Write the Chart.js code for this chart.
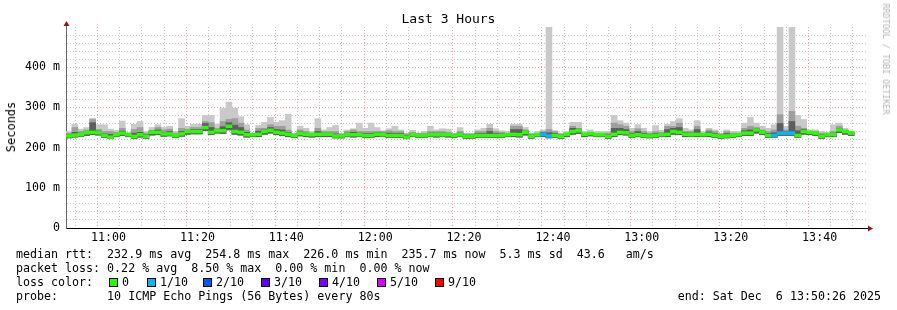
<!DOCTYPE html>
<html>
<head>
<meta charset="utf-8">
<title>Last 3 Hours</title>
<script src="https://cdn.jsdelivr.net/npm/chart.js@4.4.1/dist/chart.umd.min.js"></script>
<style>
  body { margin: 0; background: #fff; }
  #wrap { position: relative; width: 897px; height: 310px; font-family: 'DejaVu Sans Mono', monospace; color: #000; overflow: hidden; }
  #wrap canvas { position: absolute; left: 0; top: 0; }
  .txt { position: absolute; white-space: pre; font-size: 11.65px; line-height: 14px; }
  #title { position: absolute; left: 0; width: 897px; top: 11px; text-align: center; font-size: 13px; line-height: 16px; }
  #ylab { position: absolute; left: 11px; top: 127px; font-size: 12px; line-height: 14px; white-space: pre;
          transform: translate(-50%, -50%) rotate(-90deg); }
  #mark { position: absolute; left: 886px; top: 59px; font-size: 8.4px; line-height: 10px; color: #b4b4b4; white-space: pre;
          transform: translate(-50%, -50%) rotate(90deg); }
  .sq { position: absolute; width: 7px; height: 7px; border: 1px solid #000; }
</style>
</head>
<body>
<div id="wrap">
  <canvas id="pingChart" width="897" height="310"></canvas>
  <div id="title">Last 3 Hours</div>
  <div id="ylab">Seconds</div>
  <div id="mark">RRDTOOL / TOBI OETIKER</div>
  <div class="txt" style="left:16px; top:247px">median rtt:  232.9 ms avg  254.8 ms max  226.0 ms min  235.7 ms now  5.3 ms sd  43.6   am/s</div>
  <div class="txt" style="left:16px; top:261px">packet loss: 0.22 % avg  8.50 % max  0.00 % min  0.00 % now</div>
  <div class="txt" style="left:16px; top:275px">loss color:</div>
  <div id="lossLegend"></div>
  <div class="txt" style="left:16px; top:289px">probe:       10 ICMP Echo Pings (56 Bytes) every 80s</div>
  <div class="txt" style="right:16px; top:289px">end: Sat Dec  6 13:50:26 2025</div>
</div>
<script>
// one bar per 80 s sample, values in ms
const stepMinutes = 80 / 60;
const graphStart = 10 * 60 + 50 + 26 / 60;   // 10:50:26
const graphEnd = graphStart + 180;           // 13:50:26

const maxRtt = [
  240,258,246,250,273,257,257,246,243,266,238,258,265,240,250,257,250,253,240,272,253,258,
  258,280,280,258,298,313,298,277,257,236,255,263,275,263,267,283,236,253,248,240,272,244,
  250,255,236,244,247,261,248,261,250,242,247,253,244,236,243,236,240,253,244,247,246,236,250,
  236,236,244,248,258,247,242,240,258,258,250,236,240,244,510,242,236,240,263,263,240,244,240,
  240,240,280,267,261,248,257,248,240,255,243,258,265,272,248,244,267,240,248,244,236,244,240,
  240,261,275,261,253,248,257,520,253,520,280,270,244,244,240,238,257,261,248,240
];
const upperRtt = [
  236,250,240,244,270,245,240,240,238,248,235,245,250,236,243,250,244,246,236,248,246,250,
  250,265,262,248,265,270,272,261,244,234,248,248,257,253,253,244,234,244,240,236,248,240,
  240,240,234,240,244,240,240,240,240,240,242,240,240,234,238,236,236,240,240,240,238,234,240,
  234,234,240,240,248,240,238,236,253,253,244,234,236,240,245,240,234,236,253,248,236,238,236,
  236,236,261,257,253,240,247,240,236,240,238,253,253,261,240,240,253,236,244,240,234,240,236,
  236,248,253,250,244,240,244,282,244,290,253,248,240,240,236,236,240,253,244,240
];
const innerRtt = [
  233,238,236,240,262,241,234,233,235,241,234,236,238,232,241,244,238,240,233,240,243,245,
  245,260,250,245,252,262,256,250,238,233,241,244,250,245,244,238,232,239,236,234,240,236,
  236,234,231,236,238,236,235,235,237,236,236,235,235,230,235,233,233,236,236,236,235,232,236,
  231,231,235,235,240,235,234,234,245,245,241,231,234,237,237,235,231,234,248,246,235,237,234,
  234,232,248,248,245,235,240,235,233,235,235,245,248,250,237,236,245,234,239,235,231,235,233,
  234,242,244,248,241,235,237,260,240,265,242,245,239,238,232,234,236,248,242,238
];
const medianRtt = [
  229,231,233,237,238,237,230,226,232,236,232,228,232,228,238,238,234,234,230,234,240,240,
  240,250,238,242,242,253,240,238,232,232,233,240,243,238,236,233,230,235,233,232,233,233,
  233,229,229,232,232,232,230,230,233,232,230,230,230,226,232,230,230,232,232,232,232,230,232,
  228,228,230,230,230,230,230,232,233,232,238,228,232,233,229,230,228,233,240,242,233,235,232,
  232,228,233,238,237,230,232,230,229,230,232,233,240,238,233,232,233,232,233,230,228,229,230,
  232,236,236,244,238,230,230,236,236,236,230,240,238,236,228,232,232,244,240,236
];
const minRtt = [
  224,226,228,230,232,231,225,222,227,230,227,223,226,223,231,232,228,229,225,228,233,234,
  234,242,232,236,235,244,233,231,226,227,227,233,236,232,230,227,225,229,227,226,227,227,
  227,224,224,227,226,227,225,225,227,227,225,225,225,222,227,225,225,227,226,227,226,225,227,
  223,223,225,225,225,225,225,227,227,226,231,223,227,227,224,225,223,227,233,235,227,229,227,
  227,223,227,232,231,225,227,225,224,225,227,227,233,232,227,227,227,227,227,225,223,224,225,
  227,230,230,236,232,225,225,230,230,230,225,233,232,230,223,227,227,237,233,230
];
// lost pings out of 10 per sample
const lossTenths = [
  0,0,0,0,0,0,0,0,0,0,0,0,0,0,0,0,0,0,0,0,0,0,
  0,0,0,0,0,0,0,0,0,0,0,0,0,0,0,0,0,0,0,0,0,0,
  0,0,0,0,0,0,0,0,0,0,0,0,0,0,0,0,0,0,0,0,0,0,0,
  0,0,0,0,0,0,0,0,0,0,0,0,0,1,1,0,0,0,0,0,0,0,0,
  0,0,0,0,0,0,0,0,0,0,0,0,0,0,0,0,0,0,0,0,0,0,0,
  0,0,0,0,0,0,1,1,1,1,0,0,0,0,0,0,0,0,0,0
];

const lossLabels = ['0', '1/10', '2/10', '3/10', '4/10', '5/10', '9/10'];
const lossLevels = [0, 1, 2, 3, 4, 5, 9];
const lossColors = ['#26ff00', '#00b8ff', '#0059ff', '#5e00ff', '#7e00ff', '#dd00ff', '#ff0000'];
const lossLegendX = [109, 147, 203, 261, 319, 377, 435];

const yTickStep = 20;
const xGridMinutes = [];
for (let m = 655; m <= 830; m += 5) xGridMinutes.push(m);

// centre time of every sample bucket
const sampleTimes = medianRtt.map((v, i) => graphStart + stepMinutes / 2 + i * stepMinutes);

function lossColor(n) {
  let idx = 0;
  lossLevels.forEach((lvl, i) => { if (n >= lvl) idx = i; });
  return lossColors[idx];
}

function hhmm(m) {
  const h = Math.floor(m / 60), mm = Math.round(m % 60);
  return String(h).padStart(2, '0') + ':' + String(mm).padStart(2, '0');
}

// legend squares
const legendBox = document.getElementById('lossLegend');
lossLabels.forEach((lab, i) => {
  const sq = document.createElement('div');
  sq.className = 'sq';
  sq.style.left = lossLegendX[i] + 'px';
  sq.style.top = '278px';
  sq.style.background = lossColors[i];
  legendBox.appendChild(sq);
  const t = document.createElement('div');
  t.className = 'txt';
  t.style.left = (lossLegendX[i] + 13) + 'px';
  t.style.top = '275px';
  t.textContent = lab;
  legendBox.appendChild(t);
});

const axisArrows = {
  id: 'axisArrows',
  afterDraw(chart) {
    const { ctx, chartArea: a } = chart;
    ctx.save();
    ctx.lineWidth = 1;
    ctx.strokeStyle = '#666';
    ctx.beginPath();
    ctx.moveTo(a.left + 0.5, a.top);
    ctx.lineTo(a.left + 0.5, a.top - 3);
    ctx.stroke();
    ctx.strokeStyle = '#000';
    ctx.beginPath();
    ctx.moveTo(a.right, a.bottom + 0.5);
    ctx.lineTo(a.right + 3, a.bottom + 0.5);
    ctx.stroke();
    ctx.fillStyle = '#8b1a1a';
    ctx.beginPath();
    ctx.moveTo(a.left - 2.5, a.top - 1);
    ctx.lineTo(a.left + 3.5, a.top - 1);
    ctx.lineTo(a.left + 0.5, a.top - 6);
    ctx.closePath();
    ctx.fill();
    ctx.beginPath();
    ctx.moveTo(a.right + 2, a.bottom - 2.5);
    ctx.lineTo(a.right + 2, a.bottom + 3.5);
    ctx.lineTo(a.right + 7, a.bottom + 0.5);
    ctx.closePath();
    ctx.fill();
    ctx.restore();
  }
};

const barStyle = { grouped: false, barPercentage: 1, categoryPercentage: 1, borderWidth: 0 };

new Chart(document.getElementById('pingChart'), {
  type: 'bar',
  data: {
    labels: sampleTimes,
    datasets: [
      Object.assign({ label: 'median rtt', data: medianRtt.map(v => [v - 3.5, v + 3.5]),
        backgroundColor: lossTenths.map(lossColor), order: 0 }, barStyle),
      Object.assign({ label: 'inner', data: minRtt.map((v, i) => [v, innerRtt[i]]),
        backgroundColor: '#5e5e5e', order: 1 }, barStyle),
      Object.assign({ label: 'upper', data: minRtt.map((v, i) => [v, upperRtt[i]]),
        backgroundColor: '#9e9e9e', order: 2 }, barStyle),
      Object.assign({ label: 'smoke', data: minRtt.map((v, i) => [v, maxRtt[i]]),
        backgroundColor: '#c9c9c9', order: 3 }, barStyle)
    ]
  },
  options: {
    responsive: false,
    animation: false,
    layout: { padding: { left: 0, right: 31, top: 27, bottom: 62 } },
    plugins: {
      legend: { display: false },
      tooltip: { enabled: false },
      title: { display: false }
    },
    scales: {
      x: {
        type: 'linear',
        min: graphStart,
        max: graphEnd,
        offset: false,
        afterBuildTicks: function(scale) {
          scale.ticks = xGridMinutes.map(v => ({ value: v }));
        },
        afterFit: function(scale) { scale.height = 20; },
        grid: {
          drawTicks: false,
          color: ctx => (ctx.tick && ctx.tick.value % 20 === 0) ? '#f0a0a0' : '#c4c4c4',
          lineWidth: 1
        },
        border: { display: true, color: '#000', width: 1, dash: [1, 2] },
        ticks: {
          autoSkip: false,
          maxRotation: 0,
          padding: 3,
          color: '#000',
          font: { family: 'DejaVu Sans Mono', size: 11.65 },
          callback: v => (v % 20 === 0 ? hhmm(v) : '')
        }
      },
      y: {
        min: 0,
        max: 500,
        afterFit: function(scale) { scale.width = 66; },
        grid: {
          drawTicks: false,
          color: ctx => {
            const v = ctx.tick ? ctx.tick.value : 0;
            if (v === 500) return 'rgba(0,0,0,0)';
            return v % 100 === 0 ? '#f0a0a0' : '#c4c4c4';
          },
          lineWidth: 1
        },
        border: { display: true, color: '#666', width: 1, dash: [1, 2] },
        ticks: {
          stepSize: yTickStep,
          autoSkip: false,
          padding: 6,
          color: '#000',
          font: { family: 'DejaVu Sans Mono', size: 11.65 },
          callback: v => (v === 500 || v % 100 !== 0) ? '' : (v === 0 ? '0' : v + ' m')
        }
      }
    }
  },
  plugins: [axisArrows]
});
</script>
</body>
</html>
